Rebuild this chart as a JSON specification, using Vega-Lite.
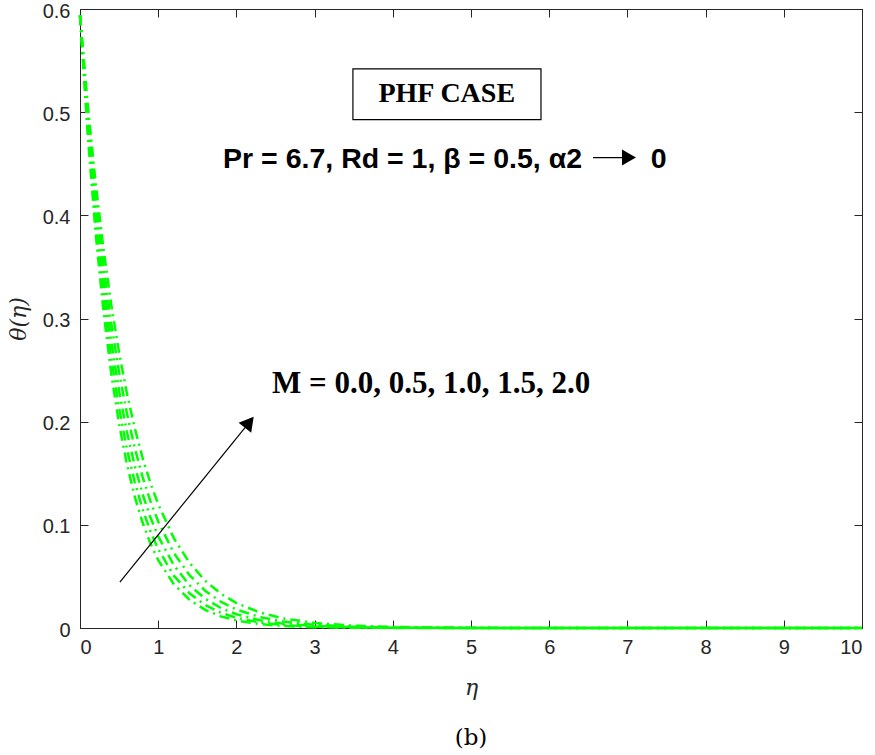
{
  "$schema": "https://vega.github.io/schema/vega-lite/v6.json",
  "width": 782,
  "height": 619,
  "autosize": {"type": "none"},
  "padding": {"left": 80, "top": 9, "right": 13, "bottom": 127},
  "background": "white",
  "title": {"text": "(b)", "orient": "bottom", "font": "DejaVu Serif", "fontSize": 23, "fontWeight": "normal", "color": "#000000", "offset": 29, "anchor": "middle"},
  "config": {
    "view": {"stroke": null},
    "axis": {
      "grid": false,
      "domainColor": "#262626",
      "domainWidth": 1,
      "tickColor": "#262626",
      "tickSize": -8,
      "labelColor": "#262626",
      "labelFont": "Liberation Sans",
      "labelFontSize": 20,
      "titleFont": "DejaVu Serif",
      "titleFontStyle": "italic",
      "titleFontWeight": "normal",
      "titleFontSize": 22,
      "titleColor": "#262626"
    }
  },
  "datasets": {
    "curves": [
      {"M":"0.0","eta":0,"theta":0.594},{"M":"0.0","eta":0.1,"theta":0.4767},{"M":"0.0","eta":0.2,"theta":0.3826},{"M":"0.0","eta":0.3,"theta":0.307},{"M":"0.0","eta":0.4,"theta":0.2464},{"M":"0.0","eta":0.5,"theta":0.1977},{"M":"0.0","eta":0.6,"theta":0.1587},{"M":"0.0","eta":0.7,"theta":0.1273},{"M":"0.0","eta":0.8,"theta":0.1022},{"M":"0.0","eta":0.9,"theta":0.082},{"M":"0.0","eta":1.0,"theta":0.0658},{"M":"0.0","eta":1.2,"theta":0.0424},{"M":"0.0","eta":1.4,"theta":0.0273},{"M":"0.0","eta":1.6,"theta":0.0176},{"M":"0.0","eta":1.8,"theta":0.0113},{"M":"0.0","eta":2.0,"theta":0.0073},{"M":"0.0","eta":2.3,"theta":0.0038},{"M":"0.0","eta":2.6,"theta":0.0019},{"M":"0.0","eta":3.0,"theta":0.0008},{"M":"0.0","eta":3.5,"theta":0.0003},{"M":"0.0","eta":4,"theta":0.0001},{"M":"0.0","eta":5,"theta":0},{"M":"0.0","eta":6,"theta":0},{"M":"0.0","eta":7,"theta":0},{"M":"0.0","eta":8,"theta":0},{"M":"0.0","eta":9,"theta":0},{"M":"0.0","eta":10,"theta":0},
      {"M":"0.5","eta":0,"theta":0.594},{"M":"0.5","eta":0.1,"theta":0.4839},{"M":"0.5","eta":0.2,"theta":0.3942},{"M":"0.5","eta":0.3,"theta":0.3212},{"M":"0.5","eta":0.4,"theta":0.2616},{"M":"0.5","eta":0.5,"theta":0.2131},{"M":"0.5","eta":0.6,"theta":0.1736},{"M":"0.5","eta":0.7,"theta":0.1414},{"M":"0.5","eta":0.8,"theta":0.1152},{"M":"0.5","eta":0.9,"theta":0.0939},{"M":"0.5","eta":1.0,"theta":0.0765},{"M":"0.5","eta":1.2,"theta":0.0507},{"M":"0.5","eta":1.4,"theta":0.0337},{"M":"0.5","eta":1.6,"theta":0.0224},{"M":"0.5","eta":1.8,"theta":0.0148},{"M":"0.5","eta":2.0,"theta":0.0099},{"M":"0.5","eta":2.3,"theta":0.0053},{"M":"0.5","eta":2.6,"theta":0.0029},{"M":"0.5","eta":3.0,"theta":0.0013},{"M":"0.5","eta":3.5,"theta":0.0005},{"M":"0.5","eta":4,"theta":0.0002},{"M":"0.5","eta":5,"theta":0},{"M":"0.5","eta":6,"theta":0},{"M":"0.5","eta":7,"theta":0},{"M":"0.5","eta":8,"theta":0},{"M":"0.5","eta":9,"theta":0},{"M":"0.5","eta":10,"theta":0},
      {"M":"1.0","eta":0,"theta":0.594},{"M":"1.0","eta":0.1,"theta":0.4912},{"M":"1.0","eta":0.2,"theta":0.4062},{"M":"1.0","eta":0.3,"theta":0.3359},{"M":"1.0","eta":0.4,"theta":0.2778},{"M":"1.0","eta":0.5,"theta":0.2297},{"M":"1.0","eta":0.6,"theta":0.19},{"M":"1.0","eta":0.7,"theta":0.1571},{"M":"1.0","eta":0.8,"theta":0.1299},{"M":"1.0","eta":0.9,"theta":0.1074},{"M":"1.0","eta":1.0,"theta":0.0888},{"M":"1.0","eta":1.2,"theta":0.0608},{"M":"1.0","eta":1.4,"theta":0.0415},{"M":"1.0","eta":1.6,"theta":0.0284},{"M":"1.0","eta":1.8,"theta":0.0194},{"M":"1.0","eta":2.0,"theta":0.0133},{"M":"1.0","eta":2.3,"theta":0.0075},{"M":"1.0","eta":2.6,"theta":0.0042},{"M":"1.0","eta":3.0,"theta":0.002},{"M":"1.0","eta":3.5,"theta":0.0008},{"M":"1.0","eta":4,"theta":0.0003},{"M":"1.0","eta":5,"theta":0},{"M":"1.0","eta":6,"theta":0},{"M":"1.0","eta":7,"theta":0},{"M":"1.0","eta":8,"theta":0},{"M":"1.0","eta":9,"theta":0},{"M":"1.0","eta":10,"theta":0},
      {"M":"1.5","eta":0,"theta":0.594},{"M":"1.5","eta":0.1,"theta":0.4987},{"M":"1.5","eta":0.2,"theta":0.4186},{"M":"1.5","eta":0.3,"theta":0.3514},{"M":"1.5","eta":0.4,"theta":0.295},{"M":"1.5","eta":0.5,"theta":0.2476},{"M":"1.5","eta":0.6,"theta":0.2079},{"M":"1.5","eta":0.7,"theta":0.1745},{"M":"1.5","eta":0.8,"theta":0.1465},{"M":"1.5","eta":0.9,"theta":0.123},{"M":"1.5","eta":1.0,"theta":0.1032},{"M":"1.5","eta":1.2,"theta":0.0727},{"M":"1.5","eta":1.4,"theta":0.0513},{"M":"1.5","eta":1.6,"theta":0.0361},{"M":"1.5","eta":1.8,"theta":0.0255},{"M":"1.5","eta":2.0,"theta":0.0179},{"M":"1.5","eta":2.3,"theta":0.0106},{"M":"1.5","eta":2.6,"theta":0.0063},{"M":"1.5","eta":3.0,"theta":0.0031},{"M":"1.5","eta":3.5,"theta":0.0013},{"M":"1.5","eta":4,"theta":0.0005},{"M":"1.5","eta":5,"theta":0.0001},{"M":"1.5","eta":6,"theta":0},{"M":"1.5","eta":7,"theta":0},{"M":"1.5","eta":8,"theta":0},{"M":"1.5","eta":9,"theta":0},{"M":"1.5","eta":10,"theta":0},
      {"M":"2.0","eta":0,"theta":0.594},{"M":"2.0","eta":0.1,"theta":0.5062},{"M":"2.0","eta":0.2,"theta":0.4313},{"M":"2.0","eta":0.3,"theta":0.3676},{"M":"2.0","eta":0.4,"theta":0.3132},{"M":"2.0","eta":0.5,"theta":0.2669},{"M":"2.0","eta":0.6,"theta":0.2274},{"M":"2.0","eta":0.7,"theta":0.1938},{"M":"2.0","eta":0.8,"theta":0.1651},{"M":"2.0","eta":0.9,"theta":0.1407},{"M":"2.0","eta":1.0,"theta":0.1199},{"M":"2.0","eta":1.2,"theta":0.0871},{"M":"2.0","eta":1.4,"theta":0.0632},{"M":"2.0","eta":1.6,"theta":0.0459},{"M":"2.0","eta":1.8,"theta":0.0333},{"M":"2.0","eta":2.0,"theta":0.0242},{"M":"2.0","eta":2.3,"theta":0.015},{"M":"2.0","eta":2.6,"theta":0.0093},{"M":"2.0","eta":3.0,"theta":0.0049},{"M":"2.0","eta":3.5,"theta":0.0022},{"M":"2.0","eta":4,"theta":0.001},{"M":"2.0","eta":5,"theta":0.0002},{"M":"2.0","eta":6,"theta":0},{"M":"2.0","eta":7,"theta":0},{"M":"2.0","eta":8,"theta":0},{"M":"2.0","eta":9,"theta":0},{"M":"2.0","eta":10,"theta":0}
    ],
    "box": [{"x1": 3.49, "x2": 5.895, "y1": 0.542, "y2": 0.4927}],
    "labels": [
      {"name": "phf", "x": 4.69, "y": 0.51, "text": "PHF CASE"},
      {"name": "params", "x": 1.83, "y": 0.446, "text": "Pr = 6.7, Rd = 1, β = 0.5, α2"},
      {"name": "zero", "x": 7.3, "y": 0.446, "text": "0"},
      {"name": "M", "x": 2.455, "y": 0.2275, "text": "M = 0.0, 0.5, 1.0, 1.5, 2.0"}
    ],
    "arrows": [
      {"x1": 6.56, "y1": 0.456, "x2": 7.02, "y2": 0.456},
      {"x1": 0.51, "y1": 0.0445, "x2": 2.165, "y2": 0.1994}
    ],
    "heads": [
      {"x": 7.02, "y": 0.456, "shape": "triangle-right", "angle": 0},
      {"x": 2.165, "y": 0.1994, "shape": "triangle-up", "angle": 39}
    ]
  },
  "layer": [
    {
      "data": {"name": "curves"},
      "mark": {"type": "line", "color": "#00FF00", "strokeWidth": 2.5, "strokeDash": [10, 5, 2, 5]},
      "encoding": {
        "x": {"field": "eta", "type": "quantitative", "scale": {"domain": [0, 10], "nice": false},
          "axis": {"orient": "bottom", "values": [0,1,2,3,4,5,6,7,8,9,10], "title": "η", "labelPadding": 17, "titlePadding": 20}},
        "y": {"field": "theta", "type": "quantitative", "scale": {"domain": [0, 0.6], "nice": false, "zero": false},
          "axis": {"orient": "left", "values": [0,0.1,0.2,0.3,0.4,0.5,0.6], "format": "~g", "title": "θ(η)", "labelPadding": 18, "labelOffset": 2, "titlePadding": 12}},
        "detail": {"field": "M", "type": "nominal"}
      }
    },
    {
      "data": {"name": "box"},
      "mark": {"type": "rect", "fill": "white", "stroke": "black", "strokeWidth": 1.2},
      "encoding": {
        "x": {"field": "x1", "type": "quantitative", "axis": {"orient": "top", "values": [0,1,2,3,4,5,6,7,8,9,10], "labels": false, "title": null}},
        "x2": {"field": "x2"},
        "y": {"field": "y1", "type": "quantitative", "axis": {"orient": "right", "values": [0,0.1,0.2,0.3,0.4,0.5,0.6], "labels": false, "title": null}},
        "y2": {"field": "y2"}
      }
    },
    {
      "data": {"name": "labels"},
      "transform": [{"filter": "datum.name == 'phf'"}],
      "mark": {"type": "text", "font": "Liberation Serif", "fontWeight": "bold", "fontSize": 28, "align": "center", "baseline": "alphabetic", "color": "black"},
      "encoding": {"x": {"field": "x", "type": "quantitative", "axis": null}, "y": {"field": "y", "type": "quantitative", "axis": null}, "text": {"field": "text"}}
    },
    {
      "data": {"name": "labels"},
      "transform": [{"filter": "datum.name == 'params' || datum.name == 'zero'"}],
      "mark": {"type": "text", "font": "Liberation Sans", "fontWeight": "bold", "fontSize": 28.5, "align": "left", "baseline": "alphabetic", "color": "black"},
      "encoding": {"x": {"field": "x", "type": "quantitative", "axis": null}, "y": {"field": "y", "type": "quantitative", "axis": null}, "text": {"field": "text"}}
    },
    {
      "data": {"name": "labels"},
      "transform": [{"filter": "datum.name == 'M'"}],
      "mark": {"type": "text", "font": "Liberation Serif", "fontWeight": "bold", "fontSize": 31, "align": "left", "baseline": "alphabetic", "color": "black"},
      "encoding": {"x": {"field": "x", "type": "quantitative", "axis": null}, "y": {"field": "y", "type": "quantitative", "axis": null}, "text": {"field": "text"}}
    },
    {
      "data": {"name": "arrows"},
      "mark": {"type": "rule", "color": "black", "strokeWidth": 1.2},
      "encoding": {"x": {"field": "x1", "type": "quantitative", "axis": null}, "x2": {"field": "x2"}, "y": {"field": "y1", "type": "quantitative", "axis": null}, "y2": {"field": "y2"}}
    },
    {
      "data": {"name": "heads"},
      "mark": {"type": "point", "filled": true, "color": "black", "size": 260, "opacity": 1},
      "encoding": {
        "x": {"field": "x", "type": "quantitative", "axis": null},
        "y": {"field": "y", "type": "quantitative", "axis": null},
        "shape": {"field": "shape", "type": "nominal", "scale": null, "legend": null},
        "angle": {"field": "angle", "type": "quantitative", "scale": null}
      }
    }
  ]
}
